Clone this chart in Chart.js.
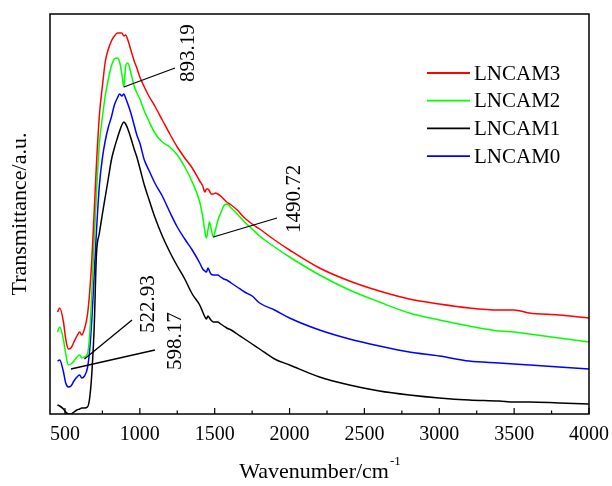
<!DOCTYPE html>
<html>
<head>
<meta charset="utf-8">
<script src="https://cdn.jsdelivr.net/npm/chart.js@4.4.1/dist/chart.umd.min.js"></script>
<style>
  html, body { margin: 0; padding: 0; background: #fff; }
</style>
</head>
<body>
<canvas id="ftir" width="612" height="486"></canvas>
<script>
// wavenumber grid (cm-1), sampled closer around the sharp bands
const wavenumbers = [450, 465, 490, 505, 522.93, 540, 560, 580, 598.17, 612, 630, 650,
  665, 680, 695, 710, 730, 750, 770, 790,
  810, 830, 850, 865, 880, 893.19, 905, 920, 940, 960,
  980, 1000, 1030, 1060, 1100, 1150, 1200, 1250, 1300, 1350,
  1400, 1420, 1435, 1445, 1455, 1465, 1475, 1490.72, 1505, 1520,
  1540, 1560, 1580, 1610, 1650, 1700, 1750, 1800, 1900, 2000,
  2200, 2400, 2600, 2800, 3000, 3200, 3400, 3500, 3600, 3800, 4000];

const lncam3 = [102, 106, 92, 75, 65, 66, 72, 78, 82, 79, 85, 99,
  122, 156, 202, 249, 299, 328, 353, 365,
  373, 378, 381, 381, 381, 378, 379, 374, 364, 354,
  346, 337, 327, 318, 308, 294, 280, 267, 256, 246,
  233, 228, 222, 225, 225, 223, 220, 220, 221, 220,
  218, 215, 212, 209, 204, 196, 190, 185, 174, 164,
  146, 133, 123, 115, 110, 106, 104, 104, 101, 99, 96];

const lncam2 = [82, 87, 74, 60, 49, 50, 53, 57, 59, 56, 57, 60,
  79, 124, 174, 220, 271, 297, 319, 335,
  348, 355, 356, 352, 340, 327, 348, 351, 341, 329,
  321, 315, 303, 293, 281, 272, 267, 259, 247, 232,
  212, 197, 182, 176, 184, 192, 186, 177, 184, 193,
  201, 208, 210, 206, 200, 192, 185, 178, 167, 157,
  139, 124, 112, 101, 94, 88, 83, 82, 80, 76, 72];

const lncam1 = [9, 8, 5, 2, 0, 0, 2, 4, 5, 6, 6, 7,
  16, 42, 86, 159, 181, 200, 218, 236,
  254, 266, 276, 283, 289, 292, 290, 285, 276, 266,
  257, 246, 229, 215, 197, 178, 162, 148, 135, 120,
  109, 102, 97, 95, 98, 96, 94, 92, 92, 92,
  90, 88, 86, 84, 80, 75, 70, 65, 55, 49,
  37, 29, 23, 19, 16, 14, 13, 12, 12, 11, 10];

const lncam0 = [53, 54, 42, 31, 27, 28, 33, 37, 39, 36, 38, 46,
  64, 96, 139, 182, 229, 256, 274, 287,
  297, 309, 316, 320, 318, 320, 316, 310, 301, 290,
  279, 271, 254, 244, 231, 218, 202, 187, 175, 164,
  151, 145, 143, 142, 146, 143, 140, 139, 139, 139,
  137, 135, 134, 131, 127, 122, 118, 111, 104, 96,
  84, 75, 68, 62, 58, 53, 51, 50, 49, 47, 45];

const seriesNames = ['LNCAM3', 'LNCAM2', 'LNCAM1', 'LNCAM0'];
const seriesValues = [lncam3, lncam2, lncam1, lncam0];
const seriesColors = ['#ff0000', '#00ff00', '#000000', '#0000ff'];

const xTicks = [500, 1000, 1500, 2000, 2500, 3000, 3500, 4000];
const xMinorTicks = [750, 1250, 1750, 2250, 2750, 3250, 3750];

// band labels
const bandTexts = ['893.19', '1490.72', '522.93', '598.17'];
// leader line (curve end -> label end) and label foot, in axis units
const bandLeaders = [
  { from: [893.19, 327], to: [1235, 346], foot: [1328, 332] },
  { from: [1490.72, 177], to: [1916, 196], foot: [2030, 181] },
  { from: [630, 55], to: [948, 94], foot: [1055, 81] },
  { from: [540, 45], to: [1101, 64], foot: [1235, 44] }
];

const serif = "'Times New Roman', 'Liberation Serif', serif";

const datasets = seriesNames.map((name, i) => ({
  label: name,
  data: wavenumbers.map((w, j) => ({ x: w, y: seriesValues[i][j] })),
  borderColor: seriesColors[i],
  borderWidth: 1.5,
  pointRadius: 0,
  cubicInterpolationMode: 'monotone',
  fill: false
}));

// box frame, inward ticks, band labels, legend and x title
const decorations = {
  id: 'decorations',
  afterDatasetsDraw(chart) {
    const { ctx, chartArea: a, scales: { x, y } } = chart;
    ctx.save();
    ctx.strokeStyle = '#000';
    ctx.lineWidth = 1.5;
    ctx.strokeRect(a.left, a.top, a.right - a.left, a.bottom - a.top);

    ctx.lineWidth = 1.2;
    ctx.beginPath();
    xTicks.forEach(v => {
      const px = x.getPixelForValue(v);
      ctx.moveTo(px, a.bottom);
      ctx.lineTo(px, a.bottom - 6);
    });
    xMinorTicks.forEach(v => {
      const px = x.getPixelForValue(v);
      ctx.moveTo(px, a.bottom);
      ctx.lineTo(px, a.bottom - 3.5);
    });
    ctx.stroke();

    // leader lines
    ctx.lineWidth = 1.3;
    ctx.beginPath();
    bandLeaders.forEach(b => {
      ctx.moveTo(x.getPixelForValue(b.from[0]), y.getPixelForValue(b.from[1]));
      ctx.lineTo(x.getPixelForValue(b.to[0]), y.getPixelForValue(b.to[1]));
    });
    ctx.stroke();

    ctx.fillStyle = '#000';
    ctx.font = '21px ' + serif;
    ctx.textAlign = 'left';
    ctx.textBaseline = 'middle';
    bandLeaders.forEach((b, i) => {
      ctx.save();
      ctx.translate(x.getPixelForValue(b.foot[0]), y.getPixelForValue(b.foot[1]));
      ctx.rotate(-Math.PI / 2);
      ctx.fillText(bandTexts[i], 0, 0);
      ctx.restore();
    });

    // legend
    chart.data.datasets.forEach((ds, i) => {
      const ly = 73 + i * 27.7;
      ctx.strokeStyle = ds.borderColor;
      ctx.lineWidth = 1.8;
      ctx.beginPath();
      ctx.moveTo(427, ly);
      ctx.lineTo(470, ly);
      ctx.stroke();
      ctx.fillText(ds.label, 474, ly + 1);
    });

    // x title with superscript
    ctx.font = '22px ' + serif;
    ctx.textBaseline = 'alphabetic';
    const main = 'Wavenumber/cm';
    const sup = '-1';
    const mw = ctx.measureText(main).width;
    ctx.font = '13px ' + serif;
    const sw = ctx.measureText(sup).width;
    const startX = (a.left + a.right) / 2 - (mw + sw) / 2;
    ctx.font = '22px ' + serif;
    ctx.fillText(main, startX, 478);
    ctx.font = '13px ' + serif;
    ctx.fillText(sup, startX + mw + 1, 465);
    ctx.restore();
  }
};

new Chart(document.getElementById('ftir'), {
  type: 'line',
  data: { datasets },
  options: {
    responsive: false,
    animation: false,
    layout: { padding: { left: 0, right: 23, top: 14, bottom: 0 } },
    plugins: { legend: { display: false }, tooltip: { enabled: false } },
    scales: {
      x: {
        type: 'linear',
        min: 400,
        max: 4000,
        afterBuildTicks: scale => { scale.ticks = xTicks.map(v => ({ value: v })); },
        afterFit: scale => {
          scale.height = 72;
          scale.paddingLeft = 0;
          scale.paddingRight = 0;
        },
        grid: { display: false, drawTicks: false },
        border: { display: false },
        ticks: {
          color: '#000',
          padding: 9,
          maxRotation: 0,
          callback: v => String(v),
          font: { family: serif, size: 20 }
        }
      },
      y: {
        min: 0,
        max: 400,
        afterFit: scale => { scale.width = 50; },
        grid: { display: false, drawTicks: false },
        border: { display: false },
        ticks: { display: false },
        title: {
          display: true,
          text: 'Transmittance/a.u.',
          color: '#000',
          padding: { top: 7, bottom: 0 },
          font: { family: serif, size: 22 }
        }
      }
    }
  },
  plugins: [decorations]
});
</script>
</body>
</html>
